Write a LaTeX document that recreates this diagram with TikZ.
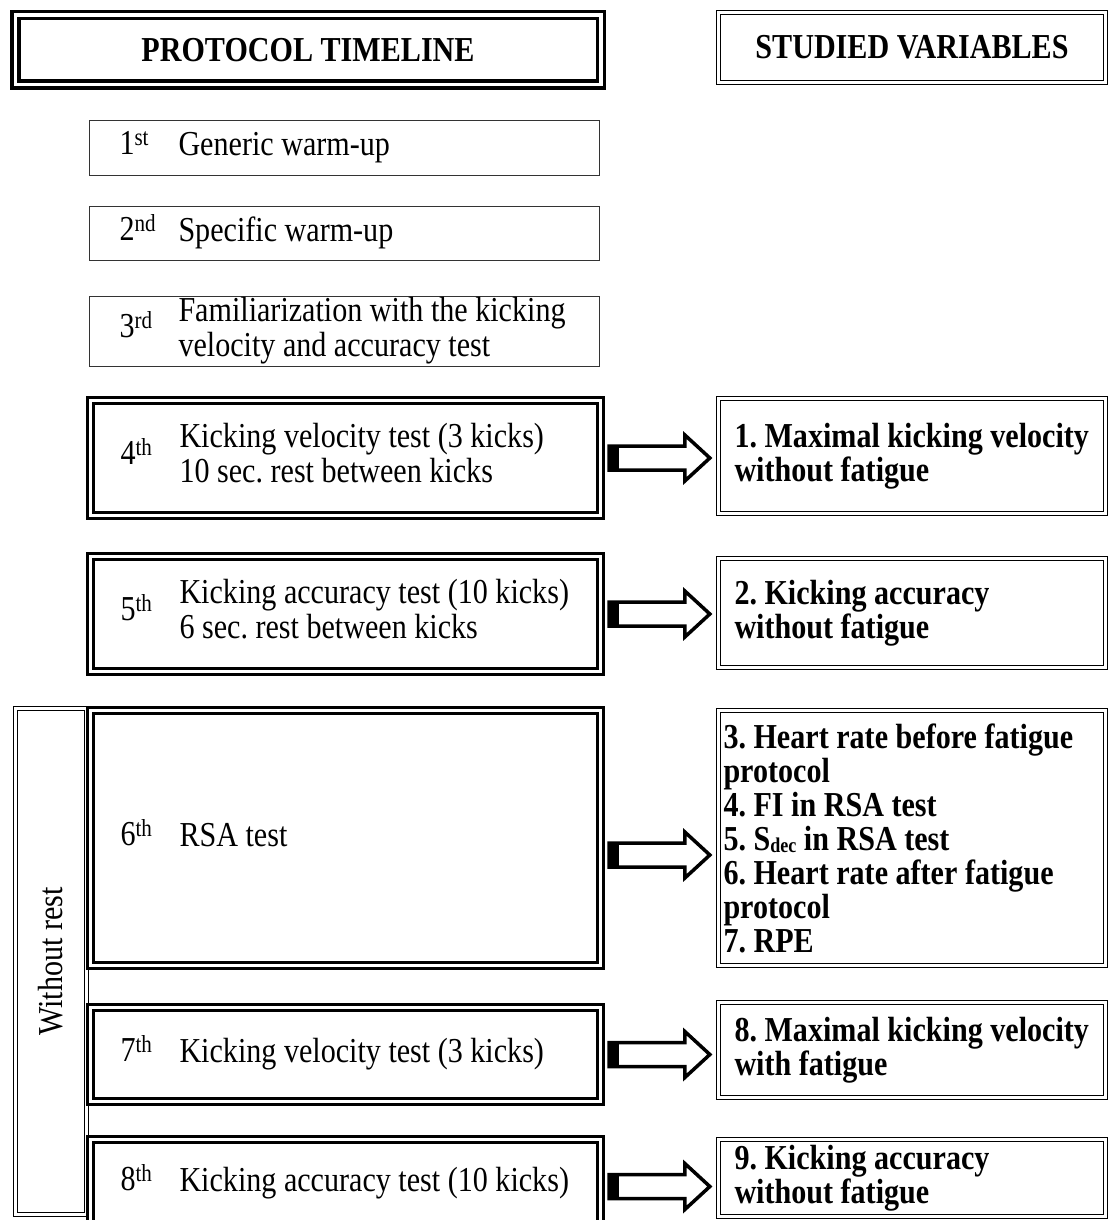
\documentclass[tikz,border=0pt]{standalone}
\usepackage{fontspec}
\setmainfont{Liberation Serif}[FakeStretch=0.86]
\usetikzlibrary{calc}
\frenchspacing

% ordinal + step text, left aligned in a fixed width
\newcommand\stage[3]{\makebox[450pt][l]{\makebox[59pt][l]{#1\textsuperscript{#2}}\begin{tabular}[c]{@{}l@{}}#3\end{tabular}}}

% hollow block arrow between a step and its variables
\newcommand\kickarrow[3][0pt]{%
  \draw[blockarrow] let \p1=(#2.east), \p2=(#3.west) in
    (\x1+7pt,\y1-#1+12pt) -- (\x2-33pt,\y1-#1+12pt) -- (\x2-33pt,\y1-#1+23pt)
    -- (\x2-8pt,\y1-#1) -- (\x2-33pt,\y1-#1-23pt) -- (\x2-33pt,\y1-#1-12pt)
    -- (\x1+7pt,\y1-#1-12pt) -- cycle;
  \fill let \p1=(#2.east) in (\x1+7pt,\y1-#1+12pt) rectangle (\x1+17pt,\y1-#1-12pt);}

\begin{document}
\begin{tikzpicture}[x=1pt, y=-1pt,
    font=\fontsize{35}{35}\selectfont,
    headbox/.style={draw, double, line width=3.5pt, double distance=3.5pt, minimum width=585.5pt, minimum height=69.5pt, inner sep=0pt, font=\fontsize{35}{35}\selectfont\bfseries},
    plainbox/.style={draw=black!80, line width=1.3pt, minimum width=510pt, inner sep=0pt},
    stagebox/.style={draw, double, line width=3pt, double distance=3pt, fill=white, minimum width=510pt, inner sep=0pt},
    thinframe/.style={draw, double, line width=1.3pt, double distance=2.5pt, minimum width=387pt, inner sep=0pt},
    varbox/.style={thinframe, align=flush left, text width=355pt, font=\fontsize{35}{34}\selectfont\bfseries},
    blockarrow/.style={draw, line width=3.5pt, fill=white}]
  \useasboundingbox (0,0) rectangle (1112,1220);
  \clip (0,0) rectangle (1112,1220);

  % Headers
  \node[headbox] (timeline) at (308,50) {PROTOCOL TIMELINE};
  \node[thinframe, minimum height=70pt, font=\fontsize{35}{35}\selectfont\bfseries] (studied) at (912,47.5) {STUDIED VARIABLES};

  % Warm-up steps
  \node[plainbox, minimum height=55pt] (s1) at (344.5,148) {\stage{1}{st}{Generic warm-up}};
  \node[plainbox, minimum height=54pt] (s2) at (344.5,233.5) {\stage{2}{nd}{Specific warm-up}};
  \node[plainbox, minimum height=70pt] (s3) at (344.5,331.5) {\stage{3}{rd}{Familiarization with the kicking\\velocity and accuracy test}};

  % Group without rest
  \node[thinframe, minimum width=506pt, minimum height=71pt, rotate=90] (norest) at (51,961.5) {Without rest};

  % Tests
  \node[stagebox, minimum height=115pt] (s4) at (345.5,458) {\stage{4}{th}{Kicking velocity test (3 kicks)\\10 sec. rest between kicks}};
  \node[stagebox, minimum height=115pt] (s5) at (345.5,614) {\stage{5}{th}{Kicking accuracy test (10 kicks)\\6 sec. rest between kicks}};
  \node[stagebox, minimum height=255pt] (s6) at (345.5,838) {\stage{6}{th}{RSA test}};
  \node[stagebox, minimum height=94pt] (s7) at (345.5,1054.5) {\stage{7}{th}{Kicking velocity test (3 kicks)}};
  \node[stagebox, minimum height=88pt] (s8) at (345.5,1183.5) {\stage{8}{th}{Kicking accuracy test (10 kicks)}};

  % Variables
  \node[varbox, minimum height=115pt] (v1) at (912,456) {1. Maximal kicking velocity\\without fatigue};
  \node[varbox, minimum height=109pt] (v2) at (912,613) {2. Kicking accuracy\\without fatigue};
  \node[varbox, minimum height=255pt, text width=377pt] (v3) at (912,838) {3. Heart rate before fatigue\\protocol\\4. FI in RSA test\\5. S\raisebox{-2pt}{\fontsize{21}{21}\selectfont dec} in RSA test\\6. Heart rate after fatigue\\protocol\\7. RPE};
  \node[varbox, minimum height=95pt] (v8) at (912,1050) {8. Maximal kicking velocity\\with fatigue};
  \node[varbox, minimum height=77pt] (v9) at (912,1178) {9. Kicking accuracy\\without fatigue};

  % Arrows
  \kickarrow{s4}{v1}
  \kickarrow{s5}{v2}
  \kickarrow[17pt]{s6}{v3}
  \kickarrow{s7}{v8}
  \kickarrow[3pt]{s8}{v9}
\end{tikzpicture}
\end{document}
